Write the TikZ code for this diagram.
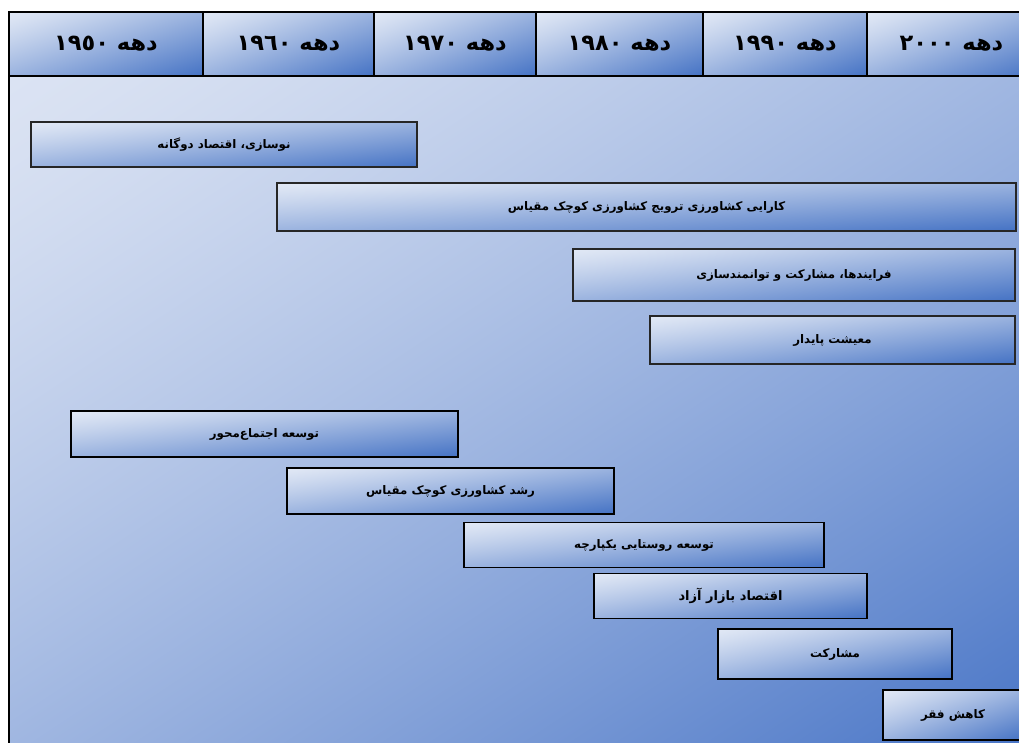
\documentclass[tikz,border=0pt]{standalone}
\usepackage{fontspec}
\newfontfamily\arabicfont[Script=Arabic]{DejaVu Sans}
\TeXXeTstate=1
% diagonal gradient in box-relative coordinates: light top-left, dark bottom-right
% light #E1E8F5 (0.882 0.910 0.961), dark #4472C4 (0.267 0.447 0.769)
\pgfdeclarefunctionalshading{bardiag}{\pgfpoint{0bp}{0bp}}{\pgfpoint{100bp}{100bp}}{}{
  75 exch sub exch 25 sub add 100 div
  abs 1.15 exp
  dup -0.615 mul 0.882 add exch
  dup -0.463 mul 0.910 add exch
  -0.192 mul 0.961 add
}
% background light #DBE3F3 (0.859 0.890 0.953), dark #4A76C7 (0.290 0.463 0.780)
\pgfdeclarefunctionalshading{bgdiag}{\pgfpoint{0bp}{0bp}}{\pgfpoint{100bp}{100bp}}{}{
  75 exch sub exch 25 sub add 100 div
  abs 1.3 exp
  dup -0.569 mul 0.859 add exch
  dup -0.427 mul 0.890 add exch
  -0.173 mul 0.953 add
}
\tikzset{
  grad/.style={shading=bardiag},
  hdr/.style={grad, draw=black, line width=1.5pt, minimum height=64pt, inner sep=0pt,
              font=\arabicfont\bfseries\fontsize{22.5}{26}\selectfont},
  bar/.style={grad, draw=black, line width=1.5pt, inner sep=0pt,
              font=\arabicfont\bfseries\fontsize{11.8}{14}\selectfont},
  barthin/.style={bar, draw=black!85, line width=1.2pt},
}
\begin{document}
\begin{tikzpicture}[x=1pt,y=-1pt]
\useasboundingbox (0,0) rectangle (1019,742);
\fill[white] (0,0) rectangle (1019,742);
\clip (0,0) rectangle (1019,742);
% body background
\shade[shading=bgdiag] (9,76) rectangle (1019,742);
\draw[black, line width=1.5pt] (9,76) -- (9,760);
% header
\node[hdr, minimum width=194pt] (h1) at (106,44) {\beginR دهه ١٩٥٠\endR};
\node[hdr, minimum width=171pt] (h2) at (288.5,44) {\beginR دهه ١٩٦٠\endR};
\node[hdr, minimum width=162pt] (h3) at (455,44) {\beginR دهه ١٩٧٠\endR};
\node[hdr, minimum width=167pt] (h4) at (619.5,44) {\beginR دهه ١٩٨٠\endR};
\node[hdr, minimum width=164pt] (h5) at (785,44) {\beginR دهه ١٩٩٠\endR};
\node[hdr, minimum width=169pt] (h6) at (951.5,44) {\beginR دهه ٢٠٠٠\endR};
% bars
\node[barthin, minimum width=386pt, minimum height=45pt] (b1) at (224,144.5) {\beginR نوسازی، اقتصاد دوگانه\endR};
\node[barthin, minimum width=739pt, minimum height=48pt] (b2) at (646.5,207) {\beginR کارایی کشاورزی ترویج کشاورزی کوچک مقیاس\endR};
\node[barthin, minimum width=442pt, minimum height=52pt] (b3) at (794,275) {\beginR فرایندها، مشارکت و توانمندسازی\endR};
\node[barthin, minimum width=365pt, minimum height=48pt] (b4) at (832.5,340) {\beginR معیشت پایدار\endR};
\node[bar, minimum width=387pt, minimum height=46pt] (b5) at (264.5,434) {\beginR توسعه اجتماع‌محور\endR};
\node[bar, minimum width=327pt, minimum height=46pt] (b6) at (450.5,491) {\beginR رشد کشاورزی کوچک مقیاس\endR};
\node[bar, minimum width=360pt, minimum height=45pt] (b7) at (644,545) {\beginR توسعه روستایی یکپارچه\endR};
\node[bar, minimum width=273pt, minimum height=45pt, font=\arabicfont\bfseries\fontsize{13}{15}\selectfont] (b8) at (730.5,596) {\beginR اقتصاد بازار آزاد\endR};
\node[bar, minimum width=234pt, minimum height=50pt] (b9) at (835,654) {\beginR مشارکت\endR};
\node[bar, minimum width=140pt, minimum height=50pt] (b10) at (953,715) {\beginR کاهش فقر\endR};
\end{tikzpicture}
\end{document}
